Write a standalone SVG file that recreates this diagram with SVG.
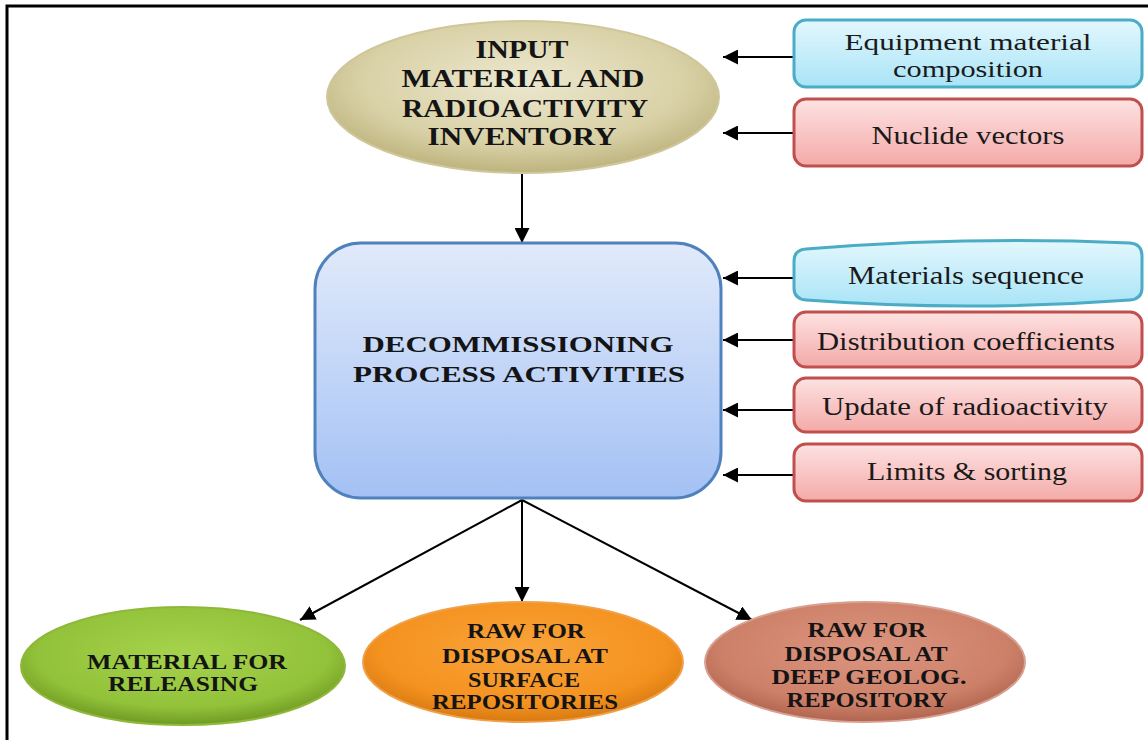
<svg xmlns="http://www.w3.org/2000/svg" width="1148" height="740" viewBox="0 0 1148 740">
<defs>
<style>
.bt{font-family:"Liberation Serif","Times New Roman",serif;font-weight:bold;fill:#141414;text-anchor:middle}
.rt{font-family:"Liberation Serif","Times New Roman",serif;fill:#1a1a1a;text-anchor:middle}
.ln{stroke:#000;stroke-width:2;fill:none}
.blue{fill:url(#gBlue);stroke:#4bacc6;stroke-width:3}
.pink{fill:url(#gPink);stroke:#c0504d;stroke-width:3}
</style>
<marker id="ah" viewBox="0 0 10 10" refX="10" refY="5" markerWidth="15" markerHeight="15" markerUnits="userSpaceOnUse" orient="auto">
<path d="M0,0 L10,5 L0,10 z" fill="#000"/>
</marker>
<linearGradient id="gBlue" x1="0" y1="0" x2="0" y2="1">
<stop offset="0" stop-color="#e3f7fd"/><stop offset="1" stop-color="#a9e4f7"/>
</linearGradient>
<linearGradient id="gPink" x1="0" y1="0" x2="0" y2="1">
<stop offset="0" stop-color="#fde2e2"/><stop offset="1" stop-color="#f3aaa8"/>
</linearGradient>
<linearGradient id="gMain" x1="0" y1="0" x2="0" y2="1">
<stop offset="0" stop-color="#e1eafb"/><stop offset="1" stop-color="#a3c1f4"/>
</linearGradient>
<radialGradient id="gTan" cx="0.5" cy="0.4" r="0.6">
<stop offset="0" stop-color="#ece8cf"/><stop offset="0.7" stop-color="#d8d0a5"/><stop offset="1" stop-color="#bdb37e"/>
</radialGradient>
<radialGradient id="gGreen" cx="0.5" cy="0.4" r="0.6">
<stop offset="0" stop-color="#a6d34c"/><stop offset="0.75" stop-color="#92c23a"/><stop offset="1" stop-color="#6f9a22"/>
</radialGradient>
<radialGradient id="gOrange" cx="0.5" cy="0.4" r="0.6">
<stop offset="0" stop-color="#f9a43a"/><stop offset="0.75" stop-color="#f4921f"/><stop offset="1" stop-color="#d87a12"/>
</radialGradient>
<radialGradient id="gBrown" cx="0.5" cy="0.4" r="0.6">
<stop offset="0" stop-color="#dc9580"/><stop offset="0.75" stop-color="#cd8068"/><stop offset="1" stop-color="#b06550"/>
</radialGradient>
</defs>
<rect width="1148" height="740" fill="#fff"/>
<path d="M7,740 V6 H1148" fill="none" stroke="#000" stroke-width="3"/>

<g id="connectors">
<line class="ln" x1="522" y1="172" x2="522" y2="243" marker-end="url(#ah)"/>
<line class="ln" x1="793" y1="57" x2="723" y2="57" marker-end="url(#ah)"/>
<line class="ln" x1="793" y1="133" x2="723" y2="133" marker-end="url(#ah)"/>
<line class="ln" x1="793" y1="278" x2="723" y2="278" marker-end="url(#ah)"/>
<line class="ln" x1="793" y1="340" x2="723" y2="340" marker-end="url(#ah)"/>
<line class="ln" x1="793" y1="410" x2="723" y2="410" marker-end="url(#ah)"/>
<line class="ln" x1="793" y1="475" x2="723" y2="475" marker-end="url(#ah)"/>
<line class="ln" x1="522" y1="500" x2="300" y2="620" marker-end="url(#ah)"/>
<line class="ln" x1="522" y1="500" x2="522" y2="602" marker-end="url(#ah)"/>
<line class="ln" x1="522" y1="500" x2="752" y2="620" marker-end="url(#ah)"/>
</g>

<g id="input">
<ellipse cx="523" cy="97" rx="196" ry="76" fill="url(#gTan)" stroke="#cfc79a" stroke-width="2"/>
<text class="bt" font-size="26" x="522" y="58" textLength="93" lengthAdjust="spacingAndGlyphs">INPUT</text>
<text class="bt" font-size="26" x="523" y="87" textLength="243" lengthAdjust="spacingAndGlyphs">MATERIAL AND</text>
<text class="bt" font-size="26" x="525" y="117" textLength="246" lengthAdjust="spacingAndGlyphs">RADIOACTIVITY</text>
<text class="bt" font-size="26" x="522" y="145" textLength="189" lengthAdjust="spacingAndGlyphs">INVENTORY</text>
</g>

<g id="decommissioning">
<rect x="315" y="243" width="406" height="255" rx="46" fill="url(#gMain)" stroke="#4f81bd" stroke-width="3"/>
<text class="bt" font-size="24" x="518" y="352" textLength="311" lengthAdjust="spacingAndGlyphs">DECOMMISSIONING</text>
<text class="bt" font-size="24" x="519" y="382" textLength="332" lengthAdjust="spacingAndGlyphs">PROCESS ACTIVITIES</text>
</g>

<g id="equipment">
<rect class="blue" x="794" y="20" width="348" height="67" rx="12"/>
<text class="rt" font-size="24" x="968" y="50" textLength="247" lengthAdjust="spacingAndGlyphs">Equipment  material</text>
<text class="rt" font-size="24" x="968" y="77" textLength="150" lengthAdjust="spacingAndGlyphs">composition</text>
</g>

<g id="nuclide">
<rect class="pink" x="794" y="99" width="348" height="67" rx="12"/>
<text class="rt" font-size="25" x="968" y="144" textLength="193" lengthAdjust="spacingAndGlyphs">Nuclide vectors</text>
</g>

<g id="materials">
<path class="blue" d="M806,249 Q968,236 1130,243 Q1142,244 1142,256 V288 Q1142,299 1130,300 Q968,312 806,300 Q794,299 794,288 V261 Q794,250 806,249 Z"/>
<text class="rt" font-size="25" x="966" y="284" textLength="236" lengthAdjust="spacingAndGlyphs">Materials sequence</text>
</g>

<g id="distribution">
<rect class="pink" x="794" y="312" width="348" height="55" rx="12"/>
<text class="rt" font-size="25" x="966" y="350" textLength="298" lengthAdjust="spacingAndGlyphs">Distribution coefficients</text>
</g>

<g id="update">
<rect class="pink" x="794" y="378" width="348" height="54" rx="12"/>
<text class="rt" font-size="25" x="965" y="415" textLength="286" lengthAdjust="spacingAndGlyphs">Update of radioactivity</text>
</g>

<g id="limits">
<rect class="pink" x="794" y="444" width="348" height="57" rx="12"/>
<text class="rt" font-size="25" x="967" y="480" textLength="200" lengthAdjust="spacingAndGlyphs">Limits &amp; sorting</text>
</g>

<g id="releasing">
<ellipse cx="183" cy="666" rx="162" ry="59" fill="url(#gGreen)" stroke="#8fb83a" stroke-width="2"/>
<text class="bt" font-size="21" x="187" y="669" textLength="200" lengthAdjust="spacingAndGlyphs">MATERIAL FOR</text>
<text class="bt" font-size="21" x="183" y="691" textLength="150" lengthAdjust="spacingAndGlyphs">RELEASING</text>
</g>

<g id="surface">
<ellipse cx="523" cy="662" rx="160" ry="60" fill="url(#gOrange)" stroke="#f0a048" stroke-width="2"/>
<text class="bt" font-size="20" x="526" y="638" textLength="118" lengthAdjust="spacingAndGlyphs">RAW FOR</text>
<text class="bt" font-size="20" x="525" y="663" textLength="166" lengthAdjust="spacingAndGlyphs">DISPOSAL AT</text>
<text class="bt" font-size="20" x="524" y="687" textLength="112" lengthAdjust="spacingAndGlyphs">SURFACE</text>
<text class="bt" font-size="20" x="525" y="709" textLength="186" lengthAdjust="spacingAndGlyphs">REPOSITORIES</text>
</g>

<g id="deep">
<ellipse cx="865" cy="662" rx="160" ry="60" fill="url(#gBrown)" stroke="#d8a090" stroke-width="2"/>
<text class="bt" font-size="20" x="867" y="637" textLength="119" lengthAdjust="spacingAndGlyphs">RAW FOR</text>
<text class="bt" font-size="20" x="866" y="661" textLength="163" lengthAdjust="spacingAndGlyphs">DISPOSAL AT</text>
<text class="bt" font-size="20" x="869" y="684" textLength="195" lengthAdjust="spacingAndGlyphs">DEEP GEOLOG.</text>
<text class="bt" font-size="20" x="867" y="707" textLength="161" lengthAdjust="spacingAndGlyphs">REPOSITORY</text>
</g>
</svg>
